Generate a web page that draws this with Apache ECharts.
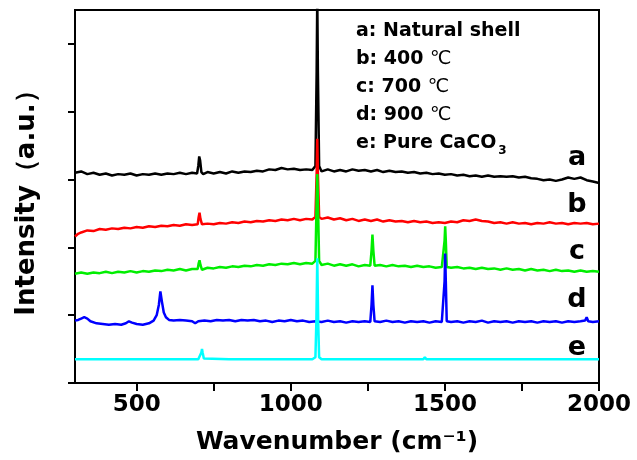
<!DOCTYPE html>
<html>
<head>
<meta charset="utf-8">
<script src="https://cdn.jsdelivr.net/npm/echarts@6/dist/echarts.min.js"></script>
<style>
  html, body { margin: 0; padding: 0; background: #fff; }
  #raman { width: 637px; height: 460px; }
</style>
</head>
<body>
<div id="raman"></div>
<script>
// Raman spectra, [wavenumber (cm-1), stacked intensity]
var shellA = [[300,3.10],[320,3.12],[340,3.08],[360,3.10],[380,3.07],[400,3.09],[420,3.06],[440,3.08],[460,3.07],[480,3.09],[500,3.06],[520,3.08],[540,3.07],[560,3.09],[580,3.07],[600,3.09],[620,3.08],[640,3.10],[660,3.08],[680,3.10],[696,3.09],[700,3.20],[703,3.34],[706,3.28],[710,3.11],[716,3.08],[730,3.11],[750,3.09],[770,3.11],[790,3.09],[810,3.12],[830,3.10],[850,3.12],[870,3.11],[890,3.13],[910,3.12],[930,3.15],[950,3.14],[970,3.17],[990,3.15],[1010,3.16],[1030,3.14],[1050,3.15],[1070,3.14],[1080,3.20],[1084,4.6],[1086,5.7],[1088,4.6],[1092,3.20],[1100,3.12],[1120,3.15],[1140,3.12],[1160,3.14],[1180,3.12],[1200,3.15],[1220,3.13],[1240,3.14],[1260,3.12],[1280,3.14],[1300,3.11],[1320,3.13],[1340,3.11],[1360,3.12],[1380,3.10],[1400,3.11],[1420,3.09],[1440,3.10],[1460,3.08],[1480,3.09],[1500,3.07],[1520,3.08],[1540,3.06],[1560,3.07],[1580,3.05],[1600,3.06],[1620,3.04],[1640,3.06],[1660,3.04],[1680,3.05],[1700,3.04],[1720,3.05],[1740,3.03],[1760,3.04],[1780,3.02],[1800,3.01],[1820,2.99],[1840,3.00],[1860,2.98],[1880,3.00],[1900,3.03],[1920,3.01],[1940,3.03],[1960,2.99],[1980,2.97],[2000,2.95]];
var t400B = [[300,2.16],[310,2.20],[320,2.22],[340,2.25],[360,2.24],[380,2.27],[400,2.26],[420,2.28],[440,2.27],[460,2.29],[480,2.28],[500,2.30],[520,2.29],[540,2.31],[560,2.30],[580,2.32],[600,2.31],[620,2.33],[640,2.32],[660,2.34],[680,2.33],[698,2.34],[701,2.44],[704,2.51],[707,2.42],[712,2.34],[730,2.35],[750,2.34],[770,2.36],[790,2.35],[810,2.37],[830,2.36],[850,2.38],[870,2.37],[890,2.39],[910,2.38],[930,2.40],[950,2.39],[970,2.41],[990,2.40],[1010,2.42],[1030,2.40],[1050,2.42],[1070,2.41],[1080,2.45],[1084,3.1],[1086,3.6],[1088,3.1],[1092,2.45],[1100,2.42],[1120,2.44],[1140,2.41],[1160,2.43],[1180,2.40],[1200,2.42],[1220,2.39],[1240,2.41],[1260,2.39],[1280,2.41],[1300,2.38],[1320,2.40],[1340,2.38],[1360,2.39],[1380,2.37],[1400,2.39],[1420,2.37],[1440,2.38],[1460,2.36],[1480,2.37],[1500,2.36],[1520,2.38],[1540,2.37],[1560,2.40],[1580,2.39],[1600,2.41],[1620,2.39],[1640,2.38],[1660,2.36],[1680,2.37],[1700,2.35],[1720,2.37],[1740,2.35],[1760,2.36],[1780,2.34],[1800,2.36],[1820,2.35],[1840,2.37],[1860,2.35],[1880,2.36],[1900,2.34],[1920,2.36],[1940,2.35],[1960,2.36],[1980,2.34],[2000,2.35]];
var t700C = [[300,1.61],[320,1.63],[340,1.61],[360,1.63],[380,1.62],[400,1.64],[420,1.62],[440,1.64],[460,1.63],[480,1.65],[500,1.63],[520,1.65],[540,1.64],[560,1.66],[580,1.65],[600,1.67],[620,1.66],[640,1.68],[660,1.66],[680,1.68],[698,1.68],[701,1.76],[704,1.81],[707,1.74],[712,1.67],[730,1.70],[750,1.69],[770,1.71],[790,1.70],[810,1.72],[830,1.71],[850,1.73],[870,1.72],[890,1.74],[910,1.73],[930,1.75],[950,1.74],[970,1.76],[990,1.75],[1010,1.77],[1030,1.75],[1050,1.77],[1070,1.76],[1080,1.80],[1084,2.7],[1086,3.08],[1088,2.7],[1092,1.80],[1100,1.74],[1120,1.76],[1140,1.73],[1160,1.75],[1180,1.73],[1200,1.75],[1220,1.72],[1240,1.74],[1258,1.73],[1262,1.95],[1265,2.19],[1268,1.95],[1272,1.73],[1290,1.74],[1310,1.72],[1330,1.74],[1350,1.72],[1370,1.73],[1390,1.71],[1410,1.73],[1430,1.71],[1450,1.72],[1470,1.70],[1490,1.71],[1496,1.72],[1499,2.1],[1501,2.31],[1503,2.1],[1506,1.71],[1520,1.70],[1540,1.71],[1560,1.69],[1580,1.70],[1600,1.68],[1620,1.70],[1640,1.68],[1660,1.69],[1680,1.67],[1700,1.69],[1720,1.67],[1740,1.68],[1760,1.66],[1780,1.68],[1800,1.66],[1820,1.67],[1840,1.65],[1860,1.67],[1880,1.65],[1900,1.66],[1920,1.64],[1940,1.66],[1960,1.64],[1980,1.65],[2000,1.64]];
var t900D = [[300,0.92],[310,0.93],[320,0.95],[330,0.97],[340,0.95],[350,0.91],[370,0.88],[390,0.87],[410,0.86],[430,0.87],[450,0.86],[465,0.88],[475,0.91],[485,0.89],[500,0.87],[520,0.86],[540,0.88],[555,0.92],[565,1.00],[572,1.15],[577,1.35],[582,1.20],[588,1.04],[595,0.97],[605,0.93],[620,0.92],[640,0.93],[660,0.92],[680,0.91],[690,0.88],[700,0.91],[720,0.92],[740,0.91],[760,0.93],[780,0.92],[800,0.93],[820,0.91],[840,0.93],[860,0.92],[880,0.93],[900,0.91],[920,0.92],[940,0.90],[960,0.92],[980,0.91],[1000,0.93],[1020,0.91],[1040,0.92],[1060,0.90],[1080,0.91],[1100,0.90],[1120,0.92],[1140,0.90],[1160,0.91],[1180,0.89],[1200,0.91],[1220,0.90],[1240,0.91],[1258,0.90],[1262,1.15],[1265,1.44],[1268,1.15],[1272,0.91],[1290,0.90],[1310,0.92],[1330,0.90],[1350,0.91],[1370,0.89],[1390,0.91],[1410,0.90],[1430,0.91],[1450,0.89],[1470,0.91],[1490,0.90],[1496,0.91],[1499,1.5],[1501,1.91],[1503,1.5],[1506,0.91],[1520,0.90],[1540,0.91],[1560,0.89],[1580,0.91],[1600,0.90],[1620,0.92],[1640,0.89],[1660,0.91],[1680,0.90],[1700,0.91],[1720,0.89],[1740,0.91],[1760,0.90],[1780,0.91],[1800,0.89],[1820,0.91],[1840,0.90],[1860,0.91],[1880,0.89],[1900,0.91],[1920,0.90],[1940,0.91],[1955,0.92],[1960,0.97],[1965,0.91],[1980,0.90],[2000,0.91]];
var pureE = [[300,0.35],[400,0.35],[500,0.35],[600,0.35],[700,0.35],[706,0.36],[710,0.45],[712,0.50],[714,0.45],[718,0.36],[800,0.35],[900,0.35],[1000,0.35],[1070,0.35],[1080,0.38],[1083,0.9],[1086,1.84],[1089,0.9],[1092,0.38],[1100,0.35],[1200,0.35],[1300,0.35],[1400,0.35],[1430,0.35],[1435,0.38],[1440,0.35],[1500,0.35],[1600,0.35],[1700,0.35],[1745,0.35],[1750,0.37],[1755,0.35],[1800,0.35],[1900,0.35],[2000,0.35]];

var names = ['a', 'b', 'c', 'd', 'e'];
var colors = ['#000000', '#ff0000', '#00ee00', '#0000ff', '#00ffff'];
var xTicks = [500, 750, 1000, 1250, 1500, 1750, 2000];
var xLabels = [500, 1000, 1500, 2000];
var yTicks = [0, 1, 2, 3, 4, 5];

var FONT = 'DejaVu Sans';
var chart = echarts.init(document.getElementById('raman'));

var spectra = [shellA, t400B, t700C, t900D, pureE];
var series = [];
for (var i = 0; i < spectra.length; i++) {
    series.push({
        name: names[i],
        type: 'line',
        data: spectra[i],
        symbol: 'none',
        clip: true,
        lineStyle: { color: colors[i], width: 2.5 },
        emphasis: { disabled: true }
    });
}

// letters at the right side of each trace
var letterY = [158, 205, 252, 300, 348];
var graphics = [];
for (var j = 0; j < names.length; j++) {
    graphics.push({
        type: 'text',
        x: 577, y: letterY[j],
        style: {
            text: names[j],
            font: 'bold 27px "' + FONT + '"',
            fill: '#000',
            textAlign: 'center',
            textVerticalAlign: 'middle'
        }
    });
}
graphics.push({
    type: 'text',
    left: 356, top: 17,
    style: {
        text: 'a: Natural shell\nb: 400 {n|℃}\nc: 700 {n|℃}\nd: 900 {n|℃}\ne: Pure CaCO{sub|3}',
        font: 'bold 19px "' + FONT + '"',
        lineHeight: 28,
        fill: '#000',
        rich: {
            n: { fontFamily: FONT, fontWeight: 'normal', fontSize: 19, lineHeight: 28 },
            sub: { fontFamily: FONT, fontWeight: 'bold', fontSize: 12, lineHeight: 12, verticalAlign: 'bottom', padding: [0, 0, 0, 2] }
        }
    }
});

option = {
    animation: false,
    backgroundColor: '#fff',
    grid: {
        left: 75, right: 38, top: 10, bottom: 76,
        show: true, borderColor: '#000', borderWidth: 2
    },
    xAxis: {
        type: 'value',
        min: 300, max: 2000,
        name: 'Wavenumber (cm⁻¹)',
        nameLocation: 'middle',
        nameGap: 47,
        nameTextStyle: { fontFamily: FONT, fontWeight: 'bold', fontSize: 25, color: '#000' },
        axisLine: { lineStyle: { color: '#000', width: 2 } },
        axisTick: { customValues: xTicks, length: 8, lineStyle: { color: '#000', width: 2 } },
        axisLabel: {
            customValues: xLabels,
            margin: 11,
            formatter: function (v) { return String(v); },
            fontFamily: FONT, fontWeight: 'bold', fontSize: 23, color: '#000'
        },
        splitLine: { show: false }
    },
    yAxis: {
        type: 'value',
        min: 0, max: 5.5,
        name: 'Intensity（a.u.）',
        nameLocation: 'middle',
        nameGap: 35,
        nameTextStyle: { fontFamily: FONT, fontWeight: 'bold', fontSize: 26, color: '#000' },
        axisLine: { lineStyle: { color: '#000', width: 2 } },
        axisTick: { customValues: yTicks, length: 7, lineStyle: { color: '#000', width: 2 } },
        axisLabel: { show: false },
        splitLine: { show: false }
    },
    graphic: graphics,
    series: series
};

if (option && typeof option === "object") {
    chart.setOption(option, true);
}
</script>
</body>
</html>
